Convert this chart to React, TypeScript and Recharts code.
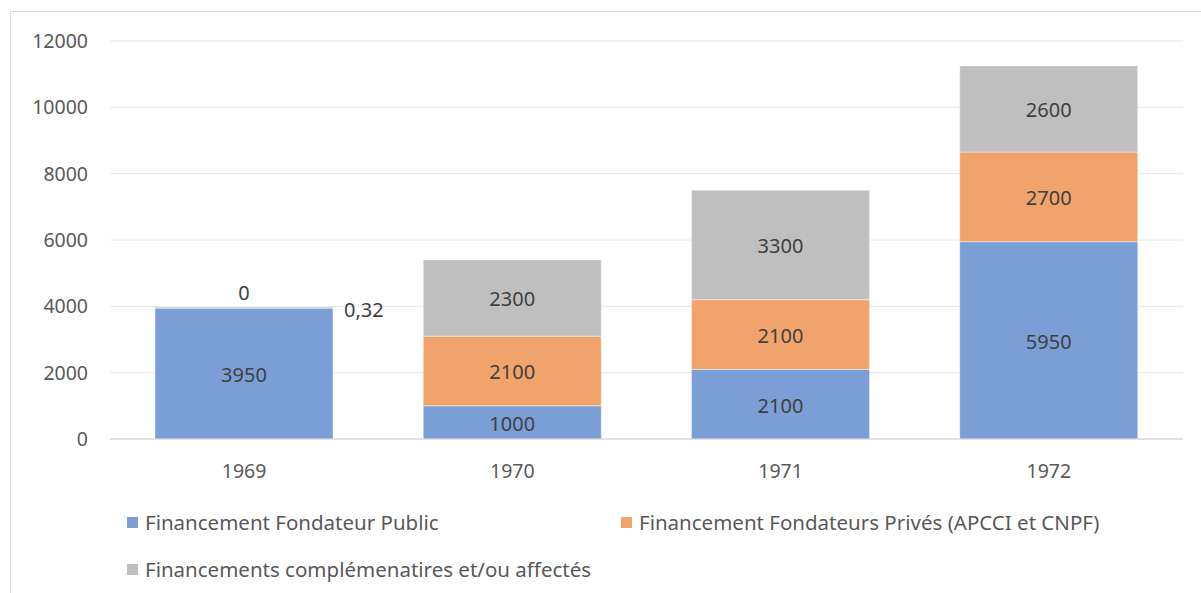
import { BarChart, Bar, XAxis, YAxis, CartesianGrid, LabelList } from 'recharts';

const years = ['1969', '1970', '1971', '1972'];
const publicFunding = [3950, 1000, 2100, 5950];
const privateFunding = [0.32, 2100, 2100, 2700];
const otherFunding = [0, 2300, 3300, 2600];
const yTicks = [0, 2000, 4000, 6000, 8000, 10000, 12000];

const series = [
  { key: 'public', name: 'Financement Fondateur Public', color: '#7B9ED6' },
  { key: 'private', name: 'Financement Fondateurs Privés (APCCI et CNPF)', color: '#F0A46C' },
  { key: 'other', name: 'Financements complémenatires et/ou affectés', color: '#BFBFBF' },
];

const data = years.map((year, i) => ({
  year,
  public: publicFunding[i],
  private: privateFunding[i],
  other: otherFunding[i],
}));

const FONT = '"Noto Sans", sans-serif';
const TEXT = '#404040';
const LABEL_SIZE = 20;

const fmt = (v: number) => String(v).replace('.', ',');

// petits segments : étiquette à droite (privé) ou au-dessus (complémentaire)
const makeLabel = (small: 'right' | 'top') => (props: any) => {
  const { x, y, width, height, value } = props;
  const xx = Number(x);
  const yy = Number(y);
  const w = Number(width);
  const h = Number(height);
  if (value === undefined || value === null) return null;
  if (Math.abs(h) < 20) {
    if (small === 'right') {
      return (
        <text x={xx + w + 11} y={yy + h / 2 + 4} fill={TEXT} fontSize={LABEL_SIZE} fontFamily={FONT} dominantBaseline="middle">
          {fmt(value)}
        </text>
      );
    }
    return (
      <text x={xx + w / 2} y={yy + h - 13} fill={TEXT} fontSize={LABEL_SIZE} fontFamily={FONT} textAnchor="middle" dominantBaseline="middle">
        {fmt(value)}
      </text>
    );
  }
  return (
    <text x={xx + w / 2} y={yy + h / 2 + 3} fill={TEXT} fontSize={LABEL_SIZE} fontFamily={FONT} textAnchor="middle" dominantBaseline="middle">
      {fmt(value)}
    </text>
  );
};

export default function App() {
  return (
    <div style={{ position: 'absolute', left: 0, top: 0, width: 1201, height: 593, background: '#fff', overflow: 'hidden' }}>
      <div style={{ position: 'absolute', left: 10, top: 11, width: 1200, height: 600, border: '1px solid #D9D9D9' }} />
      <BarChart
        width={1201}
        height={593}
        data={data}
        margin={{ top: 41, right: 18, bottom: 124, left: 0 }}
        barSize={178}
      >
        <CartesianGrid vertical={false} stroke="#E6E6E6" />
        <XAxis
          dataKey="year"
          axisLine={{ stroke: '#D0D0D0' }}
          tickLine={false}
          tickSize={0}
          tickMargin={25}
          height={30}
          tick={{ fill: '#595959', fontSize: 19.5, fontFamily: FONT }}
        />
        <YAxis
          ticks={yTicks}
          domain={[0, 12000]}
          axisLine={false}
          tickLine={false}
          tickSize={0}
          tickMargin={22}
          width={110}
          tick={{ fill: '#595959', fontSize: 19.5, fontFamily: FONT }}
        />
        {series.map((s, i) => (
          <Bar
            key={s.key}
            dataKey={s.key}
            name={s.name}
            stackId="a"
            fill={s.color}
            stroke="#FFFFFF"
            strokeOpacity={0.4}
            minPointSize={i === 2 ? 1 : 0}
            isAnimationActive={false}
          >
            <LabelList dataKey={s.key} content={makeLabel(i === 1 ? 'right' : 'top')} />
          </Bar>
        ))}
      </BarChart>
      <div style={{ position: 'absolute', left: 127, top: 509, width: 1000, fontFamily: FONT, fontSize: 20.5, color: '#595959' }}>
        {series.map((s, i) => (
          <div
            key={s.key}
            style={{
              position: 'absolute',
              left: i === 1 ? 494 : 0,
              top: i === 2 ? 47 : 0,
              display: 'flex',
              alignItems: 'center',
              height: 26,
              whiteSpace: 'nowrap',
            }}
          >
            <span style={{ display: 'inline-block', width: 11, height: 11, background: s.color, marginRight: 7 }} />
            <span>{s.name}</span>
          </div>
        ))}
      </div>
    </div>
  );
}
